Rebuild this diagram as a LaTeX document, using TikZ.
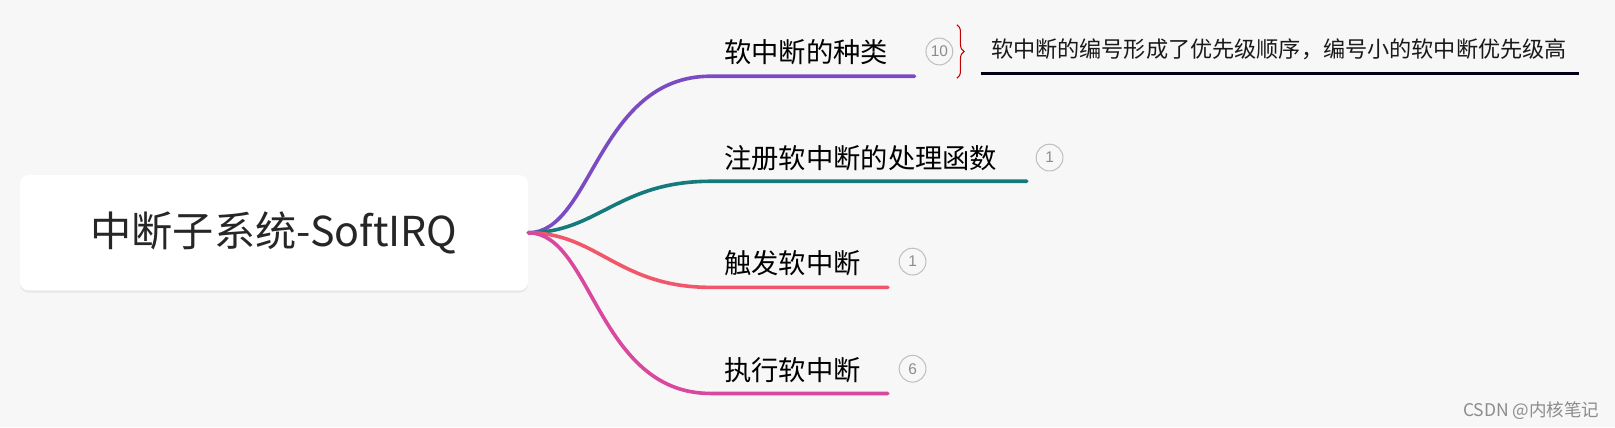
\documentclass[tikz,border=0pt]{standalone}
\usepackage{fontspec}
\setmainfont{Noto Sans CJK SC}
\newfontfamily\latinf{Liberation Sans}
\usetikzlibrary{shadows,decorations.pathreplacing}
\definecolor{bg}{HTML}{F7F7F7}
\definecolor{cpurple}{HTML}{7B4BC4}
\definecolor{cteal}{HTML}{147A7C}
\definecolor{ccoral}{HTML}{F2566A}
\definecolor{cpink}{HTML}{D9479E}
\tikzset{
 br/.style={line width=3.5pt,line cap=round},
 lab/.style={anchor=base west,font=\fontsize{26.5}{30}\selectfont,text=black,inner sep=0},
 cnt/.style={circle,draw=black!25,line width=1pt,minimum size=26pt,inner sep=0,text=black!45,font=\latinf\fontsize{15}{15}\selectfont},
}
\begin{document}
\begin{tikzpicture}[x=1pt,y=-1pt]
\fill[bg] (0,0) rectangle (1568,414.6);
\node[draw=none,fill=white,rounded corners=8pt,minimum width=493pt,minimum height=112pt,drop shadow={shadow xshift=0pt,shadow yshift=-2pt,opacity=0.12},font=\fontsize{40}{44}\selectfont,text=black!85] (root) at (266,226) {中断子系统-SoftIRQ};
\coordinate (s) at (513,226);
\coordinate (e1) at (888,74); \coordinate (m1) at (690,74);
\coordinate (e2) at (997,176); \coordinate (m2) at (690,176);
\coordinate (e3) at (862,279); \coordinate (m3) at (690,279);
\coordinate (e4) at (862,382); \coordinate (m4) at (690,382);
\draw[br,cpurple] (s) .. controls (575,226) and (580,74) .. (m1) -- (e1);
\draw[br,cteal] (s) .. controls (580,226) and (600,176) .. (m2) -- (e2);
\draw[br,ccoral] (s) .. controls (580,226) and (600,279) .. (m3) -- (e3);
\draw[br,cpink] (s) .. controls (575,226) and (580,382) .. (m4) -- (e4);
\node[lab] (t1) at (703,61) {软中断的种类};
\node[lab] (t2) at (703,164) {注册软中断的处理函数};
\node[lab] (t3) at (703,266) {触发软中断};
\node[lab] (t4) at (703,369) {执行软中断};
\node[cnt] (c1) at (912,50) {10};
\node[cnt] (c2) at (1019,153) {1};
\node[cnt] (c3) at (886,254) {1};
\node[cnt] (c4) at (886,358) {6};
\draw[red!75!black,line width=1pt,decorate,decoration={brace,amplitude=7pt}] (929,24) -- (929,76);
\node[anchor=base west,inner sep=0,font=\fontsize{21.5}{24}\selectfont,text=black!90] (d1) at (962,56) {软中断的编号形成了优先级顺序，编号小的软中断优先级高};
\draw[line width=3pt,black!90!blue] (952,71) -- (1533,71);
\node[anchor=base east,inner sep=0,font=\fontsize{17}{19}\selectfont,text=black!45] (wm) at (1553,404) {CSDN @内核笔记};
\pgfresetboundingbox
\useasboundingbox (0,0) rectangle (1568,414.6);
\end{tikzpicture}
\end{document}
